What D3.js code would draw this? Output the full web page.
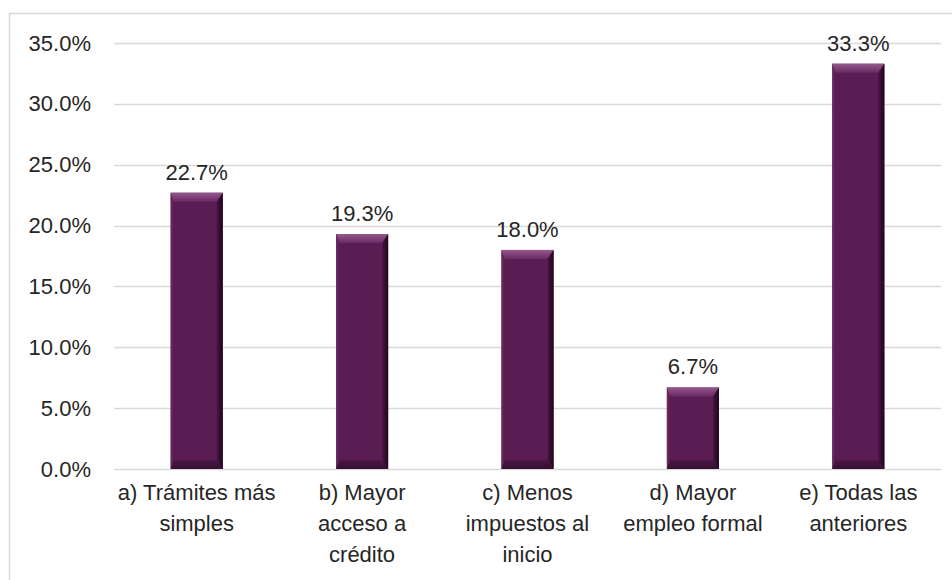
<!DOCTYPE html>
<html><head><meta charset="utf-8">
<script src="https://cdn.jsdelivr.net/npm/d3@7"></script>
<style>body{margin:0;background:#fff}svg{display:block}</style>
</head><body>
<svg id="c" width="952" height="580"></svg>
<script>
const categories = ["a) Trámites más simples","b) Mayor acceso a crédito","c) Menos impuestos al inicio","d) Mayor empleo formal","e) Todas las anteriores"];
const categoryLines = [["a) Trámites más","simples"],["b) Mayor","acceso a","crédito"],["c) Menos","impuestos al","inicio"],["d) Mayor","empleo formal"],["e) Todas las","anteriores"]];
const values = [22.7, 19.3, 18.0, 6.7, 33.3];
const yTicks = [0,5,10,15,20,25,30,35];

const svg = d3.select("#c");
const FONT = "'Liberation Sans', Arial, sans-serif";
const FS = 22;
const m = {left:114, right:941, top:43, bottom:469};

svg.append("rect").attr("x",9.5).attr("y",13.5).attr("width",960).attr("height",600)
  .attr("fill","none").attr("stroke","#d9d9d9").attr("stroke-width",1.5);

const x = d3.scaleBand().domain(categories).range([m.left,m.right]).paddingInner(0.685).paddingOuter(0.3425);
const y = d3.scaleLinear().domain([0,35]).range([m.bottom,m.top]);

const defs = svg.append("defs");
const gR = defs.append("linearGradient").attr("id","gr").attr("x1",0).attr("x2",1).attr("y1",0).attr("y2",0);
gR.append("stop").attr("offset",0).attr("stop-color","#4a1442");
gR.append("stop").attr("offset",1).attr("stop-color","#1e0619");
const gL = defs.append("linearGradient").attr("id","gl").attr("x1",0).attr("x2",1);
gL.append("stop").attr("offset",0).attr("stop-color","#6e2e64");
gL.append("stop").attr("offset",1).attr("stop-color","#5a1c52");
const gT = defs.append("linearGradient").attr("id","gt").attr("x1",0).attr("x2",0).attr("y1",0).attr("y2",1);
gT.append("stop").attr("offset",0).attr("stop-color","#94588c");
gT.append("stop").attr("offset",1).attr("stop-color","#6a2a62");
const gB = defs.append("linearGradient").attr("id","gb").attr("x1",0).attr("x2",0).attr("y1",0).attr("y2",1);
gB.append("stop").attr("offset",0).attr("stop-color","#4c1745");
gB.append("stop").attr("offset",1).attr("stop-color","#341030");

// gridlines
svg.append("g").selectAll("line").data(yTicks).join("line")
  .attr("x1",m.left).attr("x2",m.right).attr("y1",d=>Math.round(y(d))+0.5).attr("y2",d=>Math.round(y(d))+0.5)
  .attr("stroke","#d9d9d9").attr("stroke-width",1.5);

// y axis labels
const yAxis = d3.axisLeft(y).tickValues(yTicks).tickFormat(d=>d.toFixed(1)+"%").tickSize(0).tickPadding(0);
const ya = svg.append("g").attr("transform","translate(91,0)").call(yAxis);
ya.select(".domain").remove();
ya.selectAll("text").attr("font-family",FONT).attr("font-size",FS).attr("fill","#262626");

// bars with bevel
const bw = x.bandwidth();
const bars = svg.append("g").selectAll("g").data(categories).join("g")
  .attr("transform",(d,i)=>`translate(${x(d)},${y(values[i])})`);
bars.each(function(d,i){
  const g = d3.select(this);
  const h = y(0)-y(values[i]);
  const w = bw, bt=9, bb=9, bl=3, br=6;
  g.append("rect").attr("width",w).attr("height",h).attr("fill","#5a1c52");
  g.append("polygon").attr("points",`0,0 ${w},0 ${w-br},${bt} ${bl},${bt}`).attr("fill","url(#gt)");
  g.append("polygon").attr("points",`0,${h} ${w},${h} ${w-br},${h-bb} ${bl},${h-bb}`).attr("fill","url(#gb)");
  g.append("polygon").attr("points",`0,0 ${bl},${bt} ${bl},${h-bb} 0,${h}`).attr("fill","url(#gl)");
  g.append("polygon").attr("points",`${w},0 ${w-br},${bt} ${w-br},${h-bb} ${w},${h}`).attr("fill","url(#gr)");
});

// value labels
svg.append("g").selectAll("text").data(categories).join("text")
  .attr("x",d=>x(d)+bw/2).attr("y",(d,i)=>y(values[i])-13)
  .attr("text-anchor","middle").attr("font-family",FONT).attr("font-size",FS).attr("fill","#262626")
  .text((d,i)=>values[i].toFixed(1)+"%");

// x labels
const xl = svg.append("g").selectAll("text").data(categories).join("text")
  .attr("text-anchor","middle").attr("font-family",FONT).attr("font-size",FS).attr("fill","#262626");
xl.each(function(d,i){
  const t = d3.select(this);
  categoryLines[i].forEach((ln,k)=>{
    t.append("tspan").attr("x",x(d)+bw/2).attr("y",500+k*31).text(ln);
  });
});
</script>
</body></html>
